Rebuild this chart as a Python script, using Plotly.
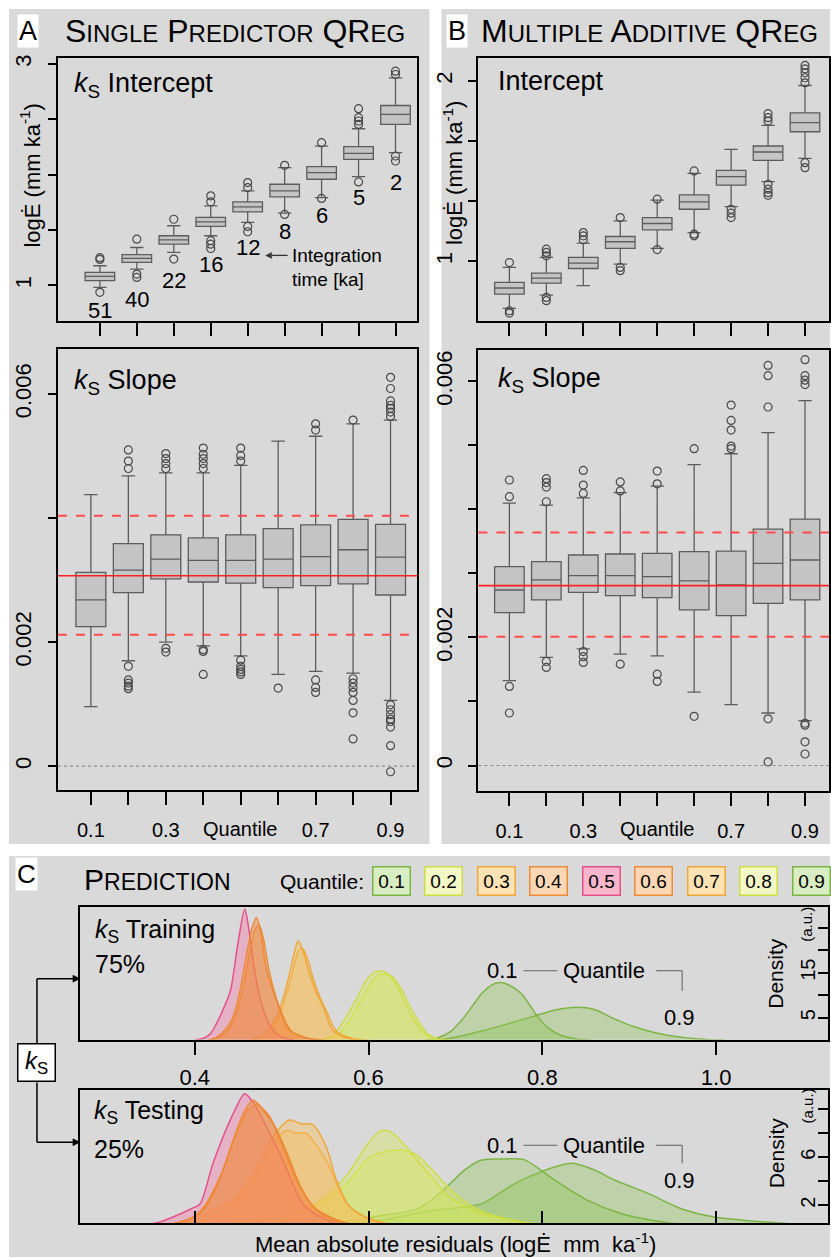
import plotly.graph_objects as go

W, H = 831, 1257
FONT = "Liberation Sans, Arial, Helvetica, sans-serif"


def X(px):
    return px / W


def Y(py):
    return 1 - py / H


# ---------------- data ----------------
POS = list(range(1, 10))
QUANTILES = ["0.1", "0.2", "0.3", "0.4", "0.5", "0.6", "0.7", "0.8", "0.9"]
LABELLED_POS = [1, 3, 7, 9]
LABELLED_TEXT = ["0.1", "0.3", "0.7", "0.9"]
UNLABELLED_POS = [2, 4, 5, 6, 8]
INTEGRATION_TIME = ["51", "40", "22", "16", "12", "8", "6", "5", "2"]
MAR_TICKS = [0.4, 0.6, 0.8, 1.0]
MAR_TICKTEXT = ["0.4", "0.6", "0.8", "1.0"]

# Panel A – single predictor, intercept
A_INT_Q1 = [1.042, 1.207, 1.372, 1.532, 1.664, 1.799, 1.958, 2.138, 2.453]
A_INT_MED = [1.081, 1.243, 1.411, 1.574, 1.709, 1.853, 2.018, 2.192, 2.543]
A_INT_Q3 = [1.117, 1.277, 1.448, 1.613, 1.754, 1.913, 2.072, 2.252, 2.624]
A_INT_LO = [0.982, 1.147, 1.297, 1.448, 1.568, 1.652, 1.793, 1.982, 2.198]
A_INT_HI = [1.177, 1.342, 1.538, 1.718, 1.853, 2.063, 2.258, 2.414, 2.874]
A_INT_OUT = [[1.234, 1.25, 0.937], [1.417, 1.102, 1.072], [1.597, 1.237],
             [1.754, 1.808, 1.403, 1.372, 1.333], [1.883, 1.928, 1.532, 1.484],
             [2.084, 1.640], [2.288, 1.785], [2.453, 2.484, 2.514, 2.595, 1.934],
             [2.904, 2.934, 2.168, 2.123]]

# Panel A – single predictor, slope
A_SL_Q1 = [0.00225, 0.0028, 0.00302, 0.00297, 0.00295, 0.00288, 0.00291, 0.00294, 0.00276]
A_SL_MED = [0.00268, 0.00316, 0.00334, 0.00332, 0.00332, 0.00334, 0.00338, 0.00349, 0.00337]
A_SL_Q3 = [0.003125, 0.00359, 0.00373, 0.00368, 0.00373, 0.00383, 0.00389, 0.00398, 0.0039]
A_SL_LO = [0.00096, 0.0017, 0.0020, 0.00194, 0.00178, 0.00148, 0.00153, 0.0015, 0.00106]
A_SL_HI = [0.00438, 0.00468, 0.00473, 0.00473, 0.00485, 0.00524, 0.00532, 0.00552, 0.00558]
A_SL_OUT = [[],
            [0.0048, 0.00492, 0.0051, 0.00161, 0.00139, 0.00134, 0.00129, 0.00125],
            [0.0048, 0.00488, 0.00496, 0.00504, 0.0019, 0.00184],
            [0.0048, 0.00488, 0.00496, 0.00503, 0.00513, 0.00188, 0.00185, 0.00148],
            [0.00492, 0.00501, 0.00513, 0.00171, 0.00161, 0.00156, 0.00152, 0.00148],
            [0.00126],
            [0.00542, 0.00552, 0.00139, 0.00127, 0.00119],
            [0.00558, 0.00141, 0.00134, 0.00127, 0.00119, 0.00106, 0.00086, 0.00044],
            [0.00564, 0.00571, 0.00577, 0.00582, 0.00589, 0.00609, 0.00627,
             0.00099, 0.00091, 0.00083, 0.00076, 0.00072, 0.00063, 0.00033, -0.00009]]
A_SL_REF = 0.00307
A_SL_BAND = [0.00212, 0.00404]

# Panel B – multiple additive, intercept
B_INT_Q1 = [0.819, 0.880, 0.961, 1.072, 1.175, 1.289, 1.422, 1.560, 1.718]
B_INT_MED = [0.853, 0.908, 0.991, 1.109, 1.210, 1.330, 1.470, 1.606, 1.768]
B_INT_Q3 = [0.884, 0.935, 1.022, 1.138, 1.243, 1.368, 1.504, 1.639, 1.823]
B_INT_LO = [0.740, 0.814, 0.866, 0.985, 1.072, 1.160, 1.304, 1.442, 1.571]
B_INT_HI = [0.967, 1.022, 1.101, 1.225, 1.339, 1.488, 1.620, 1.753, 1.974]
B_INT_OUT = [[0.994, 0.727, 0.714], [1.031, 1.050, 1.068, 0.801, 0.783],
             [1.12, 1.142, 1.16], [1.243, 0.967, 0.949], [1.345, 1.066],
             [1.501, 1.151, 1.142], [1.289, 1.267, 1.243],
             [1.777, 1.796, 1.818, 1.427, 1.40, 1.381, 1.366],
             [1.989, 2.017, 2.044, 2.066, 2.085, 1.547, 1.519]]

# Panel B – multiple additive, slope
B_SL_Q1 = [0.002389, 0.002587, 0.002706, 0.002654, 0.002623, 0.002431, 0.002342, 0.002534, 0.002587]
B_SL_MED = [0.002742, 0.002899, 0.002966, 0.002966, 0.00295, 0.002883, 0.00282, 0.003157, 0.00321]
B_SL_Q3 = [0.003106, 0.003184, 0.003288, 0.003304, 0.003313, 0.00334, 0.00335, 0.003693, 0.003849]
B_SL_LO = [0.001325, 0.001688, 0.001823, 0.001739, 0.001714, 0.001147, 0.00095, 0.00082, 0.0007]
B_SL_HI = [0.0041, 0.004067, 0.00418, 0.004264, 0.004363, 0.0047, 0.00487, 0.0052, 0.0057]
B_SL_OUT = [[0.0042, 0.00446, 0.001236, 0.00082],
            [0.00412, 0.00435, 0.00442, 0.00448, 0.001625, 0.001532],
            [0.00425, 0.00438, 0.00461, 0.00178, 0.0017, 0.00161],
            [0.00429, 0.00443, 0.001583],
            [0.0044, 0.0046, 0.001427, 0.001314],
            [0.00495, 0.000768],
            [0.00495, 0.00499, 0.00524, 0.00539, 0.00563],
            [0.0056, 0.00609, 0.00625, 0.00073, 0.000056],
            [0.00595, 0.00602, 0.00609, 0.00634, 0.00066, 0.00063, 0.00037, 0.00018]]
B_SL_REF = 0.00281
B_SL_BAND = [0.00201, 0.00364]

# Panel C – density of mean absolute residuals (x, density)
TRAIN_Q01 = [(0.665, 0), (0.68, 0.5), (0.695, 2), (0.71, 5.1), (0.73, 10.3), (0.742, 12.3), (0.752, 12.8),
             (0.762, 12.2), (0.776, 10.3), (0.795, 5.1), (0.808, 2.5), (0.822, 1.0), (0.84, 0.2), (0.855, 0)]
TRAIN_Q02 = [(0.545, 0), (0.56, 1.2), (0.574, 5.1), (0.587, 9.5), (0.597, 13.2), (0.606, 15), (0.613, 15.4),
             (0.622, 14.8), (0.633, 12), (0.643, 7.8), (0.653, 4.3), (0.664, 1.5), (0.676, 0.3), (0.69, 0)]
TRAIN_Q03 = [(0.465, 0), (0.48, 1.5), (0.494, 5.1), (0.502, 9.5), (0.509, 14.7), (0.514, 19), (0.519, 22.1),
             (0.525, 19.5), (0.532, 14.7), (0.540, 10.5), (0.548, 7.3), (0.559, 2.1), (0.578, 0.3), (0.595, 0)]
TRAIN_Q04 = [(0.415, 0), (0.425, 0.6), (0.436, 2.5), (0.444, 5.1), (0.452, 11), (0.459, 18.4), (0.466, 25),
             (0.471, 27.3), (0.476, 24), (0.482, 16.2), (0.494, 8.8), (0.509, 2.1), (0.531, 0.3), (0.545, 0)]
TRAIN_Q05 = [(0.40, 0), (0.41, 0.4), (0.418, 1.4), (0.425, 3.7), (0.433, 7), (0.441, 11), (0.450, 22),
             (0.4575, 29.2), (0.462, 25), (0.4667, 18.4), (0.472, 12), (0.478, 7.3), (0.486, 3.5),
             (0.494, 1.4), (0.505, 0.3), (0.515, 0)]
TRAIN_Q06 = [(0.418, 0), (0.43, 0.8), (0.441, 3), (0.449, 6.5), (0.457, 13), (0.464, 20.5), (0.470, 25),
             (0.474, 25.6), (0.479, 22.5), (0.486, 15), (0.497, 7.5), (0.511, 2), (0.533, 0.3), (0.55, 0)]
TRAIN_Q07 = [(0.468, 0), (0.484, 1.6), (0.497, 5.3), (0.506, 10.5), (0.513, 15.5), (0.518, 19.2), (0.523, 20.6),
             (0.529, 18.5), (0.536, 13.8), (0.544, 9.5), (0.552, 6.2), (0.563, 2), (0.582, 0.3), (0.60, 0)]
TRAIN_Q08 = [(0.55, 0), (0.566, 1.3), (0.58, 5), (0.592, 9.2), (0.602, 12.6), (0.611, 14.3), (0.618, 14.7),
             (0.627, 14.1), (0.638, 11.3), (0.648, 7.3), (0.658, 4), (0.668, 1.4), (0.68, 0.3), (0.695, 0)]
TRAIN_Q09 = [(0.68, 0), (0.70, 0.6), (0.73, 2.0), (0.76, 3.6), (0.79, 5.3), (0.815, 6.7), (0.84, 7.3),
             (0.86, 6.8), (0.883, 4.7), (0.905, 3.0), (0.93, 1.6), (0.96, 0.6), (0.99, 0.1), (1.01, 0)]

TEST_Q01 = [(0.52, 0.3), (0.58, 0.7), (0.62, 1.2), (0.653, 1.6), (0.672, 2.4), (0.691, 3.6), (0.710, 4.9),
            (0.7295, 5.75), (0.755, 5.85), (0.779, 5.8), (0.7985, 4.9), (0.8138, 4.1), (0.852, 2.4),
            (0.8905, 1.3), (0.929, 0.7), (0.97, 0.3)]
TEST_Q02 = [(0.44, 0.5), (0.50, 1.0), (0.539, 2.1), (0.574, 4.4), (0.597, 6.9), (0.610, 8.0), (0.618, 8.25),
            (0.628, 8.0), (0.642, 7.0), (0.653, 6.0), (0.672, 4.4), (0.691, 2.8), (0.73, 1.3), (0.768, 0.7),
            (0.80, 0.3)]
TEST_Q03 = [(0.38, 0.3), (0.406, 1.0), (0.425, 1.7), (0.444, 2.4), (0.467, 4.6), (0.490, 7.7), (0.509, 9.1),
            (0.522, 8.8), (0.536, 8.7), (0.551, 6.9), (0.563, 4.1), (0.578, 1.9), (0.597, 1.0), (0.63, 0.3)]
TEST_Q04 = [(0.36, 0.3), (0.383, 0.6), (0.406, 1.3), (0.425, 3.5), (0.444, 7.4), (0.457, 9.8), (0.467, 10.75),
            (0.476, 10.2), (0.486, 9.4), (0.5015, 6.9), (0.517, 4.1), (0.536, 1.9), (0.559, 0.9), (0.59, 0.2)]
TEST_Q05 = [(0.34, 0.3), (0.36, 0.6), (0.381, 1.2), (0.396, 1.7), (0.406, 2.1), (0.421, 5.5), (0.444, 9.6),
            (0.4575, 11.3), (0.468, 10.5), (0.4785, 9.1), (0.5015, 5.75), (0.5245, 2.1), (0.552, 0.75),
            (0.58, 0.2)]
TEST_Q06 = [(0.36, 0.3), (0.39, 0.7), (0.41, 1.8), (0.43, 4.5), (0.447, 7.8), (0.462, 10), (0.472, 10.4),
            (0.482, 9.6), (0.492, 8.6), (0.507, 6.2), (0.522, 3.5), (0.54, 1.6), (0.565, 0.6), (0.6, 0.1)]
TEST_Q07 = [(0.39, 0.3), (0.42, 1.0), (0.445, 2.2), (0.468, 4.2), (0.488, 6.8), (0.505, 8.25), (0.517, 8.0),
            (0.528, 8.0), (0.542, 6.8), (0.555, 5.2), (0.574, 2.2), (0.595, 1.0), (0.62, 0.4), (0.65, 0.1)]
TEST_Q08 = [(0.45, 0.5), (0.51, 1.1), (0.55, 2.4), (0.58, 4.2), (0.597, 5.75), (0.615, 6.4), (0.636, 6.6),
            (0.655, 6.2), (0.675, 4.8), (0.70, 2.9), (0.73, 1.5), (0.77, 0.7), (0.81, 0.3)]
TEST_Q09 = [(0.55, 0.3), (0.62, 0.8), (0.653, 1.3), (0.69, 1.7), (0.73, 2.1), (0.768, 3.8), (0.799, 4.8),
            (0.833, 5.5), (0.858, 5.0), (0.883, 4.1), (0.921, 3.0), (0.96, 1.7), (0.998, 1.0), (1.036, 0.7),
            (1.075, 0.5), (1.11, 0.3)]

# colours per quantile (line, fill, legend fill)
GREEN = ("#7db544", "rgba(140,195,80,0.35)", "#d9edc2")
YGREEN = ("#cddd45", "rgba(215,232,95,0.42)", "#f3f7c6")
YORANGE = ("#efa73a", "rgba(246,190,90,0.42)", "#fde2b3")
ORANGE = ("#ec8a35", "rgba(242,140,70,0.45)", "#fbd7b6")
PINK = ("#e4508a", "rgba(240,140,175,0.5)", "#f7b6cb")
Q_COLORS = [GREEN, YGREEN, YORANGE, ORANGE, PINK, ORANGE, YORANGE, YGREEN, GREEN]

BOX_FILL = "#c4c4c4"
BOX_LINE = "#5c5c5c"
OUT_COLOR = "#4a4a4a"

fig = go.Figure()


def add_box(xa, ya, q1, med, q3, lo, hi, out):
    fig.add_trace(go.Box(x=POS, q1=q1, median=med, q3=q3, lowerfence=lo, upperfence=hi,
                         xaxis=xa, yaxis=ya, width=0.8, whiskerwidth=0.45,
                         fillcolor=BOX_FILL, line=dict(color=BOX_LINE, width=1.3),
                         boxpoints=False, hoverinfo="skip", showlegend=False))
    ox, oy = [], []
    for p, vals in zip(POS, out):
        ox += [p] * len(vals)
        oy += vals
    fig.add_trace(go.Scatter(x=ox, y=oy, mode="markers", xaxis=xa, yaxis=ya, showlegend=False,
                             marker=dict(symbol="circle-open", size=8, color=OUT_COLOR,
                                         line=dict(width=1.2, color=OUT_COLOR))))


add_box("x", "y", A_INT_Q1, A_INT_MED, A_INT_Q3, A_INT_LO, A_INT_HI, A_INT_OUT)
add_box("x2", "y2", A_SL_Q1, A_SL_MED, A_SL_Q3, A_SL_LO, A_SL_HI, A_SL_OUT)
add_box("x3", "y3", B_INT_Q1, B_INT_MED, B_INT_Q3, B_INT_LO, B_INT_HI, B_INT_OUT)
add_box("x4", "y4", B_SL_Q1, B_SL_MED, B_SL_Q3, B_SL_LO, B_SL_HI, B_SL_OUT)

TRAIN = [TRAIN_Q01, TRAIN_Q02, TRAIN_Q03, TRAIN_Q04, TRAIN_Q05, TRAIN_Q06, TRAIN_Q07, TRAIN_Q08, TRAIN_Q09]
TEST = [TEST_Q01, TEST_Q02, TEST_Q03, TEST_Q04, TEST_Q05, TEST_Q06, TEST_Q07, TEST_Q08, TEST_Q09]
DRAW_ORDER = [8, 0, 7, 1, 6, 2, 4, 5, 3]


def add_density(xa, ya, pts, col):
    fig.add_trace(go.Scatter(x=[p[0] for p in pts], y=[p[1] for p in pts], mode="lines",
                             xaxis=xa, yaxis=ya, showlegend=False, hoverinfo="skip",
                             line=dict(color=col[0], width=1.5, shape="spline", smoothing=0.8),
                             fill="tozeroy", fillcolor=col[1]))


for i in DRAW_ORDER:
    add_density("x5", "y5", TRAIN[i], Q_COLORS[i])
    add_density("x6", "y6", TEST[i], Q_COLORS[i])


def ax(**kw):
    d = dict(showline=True, linecolor="black", linewidth=2, mirror=True, showgrid=False,
             zeroline=False, ticks="outside", tickcolor="black", tickwidth=2,
             tickfont=dict(family=FONT, size=20, color="black"))
    d.update(kw)
    return d


def minor(vals, ticklen, ticks="outside"):
    return dict(tickmode="array", tickvals=vals, ticks=ticks, ticklen=ticklen, tickwidth=2,
                tickcolor="black", showgrid=False)


YTF = dict(family=FONT, size=22, color="black")
fig.update_layout(
    width=W, height=H, margin=dict(l=0, r=0, t=0, b=0),
    paper_bgcolor="white", plot_bgcolor="white", showlegend=False, boxmode="overlay",
    xaxis=ax(domain=[X(58), X(418)], range=[-0.135, 9.595], anchor="y", tickmode="array", tickvals=[],
             ticks="", minor=minor(POS, 13)),
    yaxis=ax(domain=[Y(319), Y(55)], range=[0.676, 3.054], anchor="x",
             tickvals=[1, 3], ticktext=["1", "3"], tickangle=-90, minor=minor([1.5, 2, 2.5], 8),
             ticklen=8, tickfont=YTF, ticklabelstandoff=8),
    xaxis2=ax(domain=[X(58), X(418)], range=[0.12, 9.72], anchor="y2", tickvals=LABELLED_POS,
              ticktext=LABELLED_TEXT, minor=minor(UNLABELLED_POS, 13), ticklen=13, ticklabelstandoff=8),
    yaxis2=ax(domain=[Y(789), Y(347)], range=[-0.000386, 0.006724], anchor="x2",
              tickvals=[0, 0.002, 0.006], ticktext=["0", "0.002", "0.006"], minor=minor([0.004], 8),
              tickangle=-90, ticklen=8, tickfont=YTF, ticklabelstandoff=8),
    xaxis3=ax(domain=[X(479), X(830)], range=[0.162, 9.649], anchor="y3", tickmode="array", tickvals=[],
              ticks="", minor=minor(POS, 13)),
    yaxis3=ax(domain=[Y(319), Y(55)], range=[0.669, 2.127], anchor="x3",
              tickvals=[1, 2], ticktext=["1", "2"], minor=minor([4 / 3, 5 / 3], 8), tickangle=-90,
              ticklen=8, tickfont=YTF, ticklabelstandoff=8),
    xaxis4=ax(domain=[X(479), X(830)], range=[0.162, 9.649], anchor="y4", tickvals=LABELLED_POS,
              ticktext=LABELLED_TEXT, minor=minor(UNLABELLED_POS, 13), ticklen=13, ticklabelstandoff=8),
    yaxis4=ax(domain=[Y(790), Y(348)], range=[-0.0004, 0.006488], anchor="x4",
              tickvals=[0, 0.002, 0.006], ticktext=["0", "0.002", "0.006"],
              minor=minor([0.001, 0.003, 0.004, 0.005], 8), tickangle=-90,
              ticklen=8, tickfont=YTF, ticklabelstandoff=8),
    xaxis5=ax(domain=[X(80), X(829)], range=[0.2678, 1.1287], anchor="y5",
              tickvals=MAR_TICKS, ticktext=MAR_TICKTEXT, ticklen=13,
              tickfont=dict(family=FONT, size=22, color="black"), ticklabelstandoff=4),
    yaxis5=ax(domain=[Y(1039), Y(906)], range=[0.11, 29.67], anchor="x5", side="right",
              ticks="inside", ticklen=10, ticklabelposition="inside", tickangle=-90,
              tickvals=[5, 15], ticktext=["5", "15"], minor=minor([10, 20, 25], 10, "inside")),
    xaxis6=ax(domain=[X(80), X(829)], range=[0.2678, 1.1287], anchor="y6", tickmode="array",
              tickvals=[], ticks="", minor=minor(MAR_TICKS, 12, "inside")),
    yaxis6=ax(domain=[Y(1223), Y(1090)], range=[0.5, 11.58], anchor="x6", side="right",
              ticks="inside", ticklen=10, ticklabelposition="inside", tickangle=-90,
              tickvals=[2, 6], ticktext=["2", "6"], minor=minor([4, 8, 10], 10, "inside")),
)

# ---------------- shapes ----------------
shapes = []
GRAY = "#d9d9d9"
for (x0, y0, x1, y1) in [(9, 6, 430, 843), (442, 6, 831, 843), (9, 855, 831, 1257)]:
    shapes.append(dict(type="rect", xref="paper", yref="paper", x0=X(x0), x1=X(x1), y0=Y(y1), y1=Y(y0),
                       fillcolor=GRAY, line=dict(width=0), layer="below"))

for xa, ya, ref, band in [("x2", "y2", A_SL_REF, A_SL_BAND), ("x4", "y4", B_SL_REF, B_SL_BAND)]:
    shapes.append(dict(type="line", xref=xa + " domain", yref=ya, x0=0, x1=1, y0=0, y1=0,
                       line=dict(color="#8a8a8a", width=1.2, dash="dot")))
    for b in band:
        shapes.append(dict(type="line", xref=xa + " domain", yref=ya, x0=0, x1=1, y0=b, y1=b,
                           line=dict(color="#ff4a4a", width=2, dash="9px,9px")))
    shapes.append(dict(type="line", xref=xa + " domain", yref=ya, x0=0, x1=1, y0=ref, y1=ref,
                       line=dict(color="#ff2020", width=1.6)))


def pline(x0, y0, x1, y1, color="black", width=1.5):
    shapes.append(dict(type="line", xref="paper", yref="paper", x0=X(x0), y0=Y(y0), x1=X(x1), y1=Y(y1),
                       line=dict(color=color, width=width)))


def arrowhead(tip_x, tip_y, direction, color="black", length=7, half=3.5):
    bx = tip_x - direction * length
    path = "M %f %f L %f %f L %f %f Z" % (X(tip_x), Y(tip_y), X(bx), Y(tip_y - half), X(bx), Y(tip_y + half))
    shapes.append(dict(type="path", xref="paper", yref="paper", path=path, fillcolor=color,
                       line=dict(color=color, width=0.5)))


# k_S connector lines with arrows
pline(37, 1043, 37, 978)
pline(37, 978, 74, 978)
arrowhead(80, 978, 1)
pline(37, 1082, 37, 1142)
pline(37, 1142, 74, 1142)
arrowhead(80, 1142, 1)
# integration-time pointer
pline(272, 253, 288, 253, "#333", 1.3)
arrowhead(266, 253, -1, "#333", 6, 3)
# quantile brackets
for yy, yd in [(970, 990), (1145, 1163)]:
    pline(524, yy, 558, yy, "#666", 1.1)
    pline(657, yy, 683, yy, "#666", 1.1)
    pline(683, yy, 683, yd, "#666", 1.1)
fig.update_layout(shapes=shapes)

# ---------------- annotations ----------------
ann = []


def txt(text, px, py, size=20, xanchor="center", yanchor="middle", angle=0, **kw):
    ann.append(dict(text=text, x=X(px), y=Y(py), xref="paper", yref="paper", showarrow=False,
                    xanchor=xanchor, yanchor=yanchor, textangle=angle,
                    font=dict(family=FONT, size=size, color="black"), **kw))


SC = "<span style='font-size:24px'>%s</span>"
txt("A", 28, 28, size=27, bgcolor="white", borderpad=1)
txt("B", 458, 28, size=27, bgcolor="white", borderpad=1)
txt("S" + SC % "INGLE" + " P" + SC % "REDICTOR" + " QR" + SC % "EG", 63, 28, size=32, xanchor="left")
txt("M" + SC % "ULTIPLE" + " A" + SC % "DDITIVE" + " QR" + SC % "EG", 480, 28, size=32, xanchor="left")

txt("logĖ (mm ka<sup>-1</sup>)", 30, 172, size=22, angle=-90)
txt("logĖ (mm ka<sup>-1</sup>)", 453, 170, size=22, angle=-90)

txt("<i>k</i><sub>S</sub> Intercept", 72, 82, size=27, xanchor="left")
txt("Intercept", 497, 78, size=27, xanchor="left")
txt("<i>k</i><sub>S</sub> Slope", 72, 380, size=27, xanchor="left")
txt("<i>k</i><sub>S</sub> Slope", 497, 378, size=27, xanchor="left")

LABEL_Y = [308, 297, 278, 262, 245, 229, 213, 195, 180]
for p, lab, ly in zip(POS, INTEGRATION_TIME, LABEL_Y):
    ann.append(dict(text=lab, x=p, y=Y(ly), xref="x", yref="paper", showarrow=False,
                    xanchor="center", yanchor="middle",
                    font=dict(family=FONT, size=22, color="black")))
txt("Integration", 290, 253, size=19, xanchor="left")
txt("time [ka]", 290, 277, size=19, xanchor="left")

for xr in ["x2", "x4"]:
    ann.append(dict(text="Quantile", x=5, y=Y(828), xref=xr, yref="paper", showarrow=False,
                    xanchor="center", yanchor="middle",
                    font=dict(family=FONT, size=20, color="black")))

# panel C
txt("C", 27, 873, size=26, bgcolor="white", borderpad=1)
txt("P<span style='font-size:23px'>REDICTION</span>", 82, 879, size=30, xanchor="left")
txt("Quantile:", 366, 881, size=21, xanchor="right")
for i, q in enumerate(QUANTILES):
    col = Q_COLORS[i]
    txt(q, 392 + 52.5 * i, 880, size=19, bgcolor=col[2], bordercolor=col[0], borderwidth=1.5,
        width=34, height=25, borderpad=1)

txt("<i>k</i><sub>S</sub> Training", 93, 930, size=25, xanchor="left")
txt("75%", 93, 963, size=25, xanchor="left")
txt("<i>k</i><sub>S</sub> Testing", 92, 1112, size=25, xanchor="left")
txt("25%", 92, 1149, size=25, xanchor="left")

for yy, y9 in [(970, 1017), (1145, 1180)]:
    txt("0.1", 503, yy, size=22)
    txt("Quantile", 605, yy, size=22)
    txt("0.9", 680, y9, size=22)

txt("Density", 777, 973, size=21, angle=-90)
txt("(a.u.)", 808, 924, size=15, angle=-90)
txt("Density", 777, 1153, size=21, angle=-90)
txt("(a.u.)", 808, 1106, size=15, angle=-90)

txt("Mean absolute residuals (logĖ  mm  ka<sup>-1</sup>)", 456, 1243, size=22)

txt("<i>k</i><sub>S</sub>", 37, 1062, size=24, bgcolor="white", bordercolor="black", borderwidth=1.5,
    width=36, height=36, borderpad=0)

fig.update_layout(annotations=ann)
fig.write_html("out.html")
